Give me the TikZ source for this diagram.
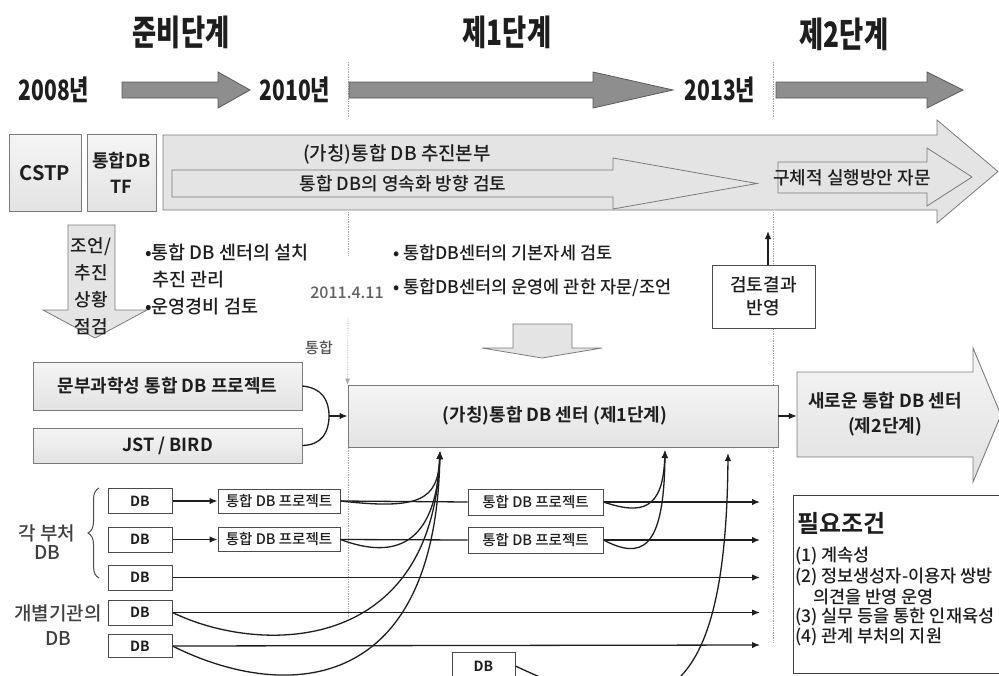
\documentclass[tikz,border=0pt]{standalone}
\usepackage{fontspec}
\setmainfont{Noto Sans CJK KR Medium}[BoldFont={Noto Sans CJK KR Bold}]
\newfontfamily\krc{Noto Sans CJK KR}[FakeStretch=0.75]
\usetikzlibrary{arrows.meta,decorations.pathreplacing,calc}
\definecolor{darkfill}{HTML}{8E8E8E}
\definecolor{darkline}{HTML}{5A5A5A}
\definecolor{lightfill}{HTML}{E4E4E4}
\definecolor{boxline}{HTML}{7A7A7A}
\definecolor{ink}{HTML}{1E1E1E}
\newcommand\fsz[2]{\fontsize{#1}{#2}\selectfont}
\begin{document}
\begin{tikzpicture}[x=1pt,y=-1pt,
  txt/.style={inner sep=0pt,text=ink},
  ttl/.style={txt,font=\krc\bfseries\fsz{35}{38}},
  yr/.style={txt,font=\krc\bfseries\fsz{28}{30}},
  bigarr/.style={fill=darkfill,draw=darkline,line width=0.8pt},
  lightarr/.style={fill=lightfill,draw=boxline,line width=0.8pt},
  graybox/.style={draw=boxline,line width=0.9pt,top color=gray!8,bottom color=gray!22,inner sep=0pt,text=ink},
  whitebox/.style={draw=ink!80,line width=1pt,fill=white,inner sep=0pt,text=ink},
  dbbox/.style={whitebox,minimum width=64pt,minimum height=25pt,font=\bfseries\fsz{14}{16}},
  projbox/.style={whitebox,minimum height=24pt,font=\fsz{14.5}{16}},
  vline/.style={draw=gray!70,densely dotted,line width=0.7pt},
  conn/.style={draw=ink,line width=1.3pt},
  tip/.style={-{Latex[length=8pt,width=6.5pt]}}
]
\useasboundingbox (0,0) rectangle (999,675);
\fill[white] (0,0) rectangle (999,675);

% ---------- dotted phase lines ----------
\draw[vline] (348,62) -- (348,118);
\draw[vline] (348,212) -- (348,256);
\draw[vline] (348,448) -- (348,618);
\draw[vline] (773,62) -- (773,118);
\draw[vline] (773,212) -- (773,385);
\draw[vline] (773,448) -- (773,642);

% ---------- titles ----------
\node[ttl] (t0) at (181,32) {준비단계};
\node[ttl] (t1) at (507,32) {제1단계};
\node[ttl] (t2) at (844,34) {제2단계};

\node[yr] (y08) at (54,90) {2008년};
\node[yr] (y10) at (295,90) {2010년};
\node[yr] (y13) at (720,90) {2013년};

\draw[bigarr] (122,82) -- (218,82) -- (218,72) -- (250,90) -- (218,108) -- (218,98) -- (122,98) -- cycle;
\draw[bigarr] (349,82) -- (593,82) -- (593,72) -- (673,90) -- (593,108) -- (593,98) -- (349,98) -- cycle;
\draw[bigarr] (776,82) -- (927,82) -- (927,72) -- (963,90) -- (927,108) -- (927,98) -- (776,98) -- cycle;

% ---------- second row ----------
\node[graybox,minimum width=72pt,minimum height=77pt,font=\bfseries\fsz{20}{22}] (cstp) at (45,173) {CSTP};
\node[graybox,minimum width=69pt,minimum height=77pt,align=center,font=\bfseries\fsz{18}{26}] (tf) at (121.5,173) {통합DB\\TF};

\draw[lightarr] (163,135) -- (937,135) -- (937,120) -- (998,171.5) -- (937,223) -- (937,210) -- (163,210) -- cycle;
\draw[lightarr] (172,170) -- (613,170) -- (613,158) -- (757,183.5) -- (613,209) -- (613,197) -- (172,197) -- cycle;
\draw[lightarr] (778,162) -- (927,162) -- (927,148) -- (972,177) -- (927,206) -- (927,193) -- (778,193) -- cycle;

\node[txt,font=\fsz{19}{22}] (hq) at (397,154) {(가칭)통합 DB 추진본부};
\node[txt,font=\fsz{18}{20}] (perm) at (403,184) {통합 DB의 영속화 방향 검토};
\node[txt,font=\fsz{18}{20}] (adv) at (852,177.5) {구체적 실행방안 자문};

% ---------- third row ----------
\draw[lightarr] (68,225) -- (115,225) -- (115,310) -- (147,310) -- (95,338) -- (43,310) -- (68,310) -- cycle;
\node[txt,align=center,font=\fsz{18}{27}] (chk) at (91,286) {조언/\\추진\\상황\\점검};

\node[txt,anchor=west,font=\fsz{18.5}{20}] (lb1) at (145,253) {•통합 DB 센터의 설치};
\node[txt,anchor=west,font=\fsz{18.5}{20}] (lb2) at (152,280) {추진 관리};
\node[txt,anchor=west,font=\fsz{18.5}{20}] (lb3) at (145,307) {•운영경비 검토};

\node[txt,anchor=west,font=\fsz{17.5}{20}] (mb1) at (393,253) {• 통합DB센터의 기본자세 검토};
\node[txt,anchor=west,font=\fsz{17.5}{20}] (mb2) at (393,288) {• 통합DB센터의 운영에 관한 자문/조언};
\node[txt,text=ink!70,font=\fsz{16}{18}] (date) at (347,293) {2011.4.11};

\draw[lightarr] (513,324) -- (572,324) -- (572,348) -- (602,348) -- (542,358) -- (482,348) -- (513,348) -- cycle;

\node[whitebox,minimum width=103pt,minimum height=63pt,align=center,font=\fsz{18}{23}] (kb) at (763.5,296.5) {검토결과\\반영};
\coordinate (kbt) at (768,231);
\draw[conn,tip] ([xshift=4.5pt]kb.north) -- (kbt);

% ---------- fourth row ----------
\node[graybox,minimum width=269pt,minimum height=48pt,font=\bfseries\fsz{18}{20}] (mext) at (167.5,386) {문부과학성 통합 DB 프로젝트};
\node[graybox,minimum width=269pt,minimum height=35pt,font=\bfseries\fsz{18}{20}] (jst) at (167.5,445.5) {JST / BIRD};

\node[graybox,minimum width=430pt,minimum height=62pt,font=\bfseries\fsz{18}{20}] (cb) at (563,416) {\hspace*{-16pt}(가칭)통합 DB 센터 (제1단계)};

\node[txt,text=ink!75,font=\fsz{15}{17}] (tonghap) at (319,348) {통합};
\draw[vline,-{Latex[length=6pt,width=5pt]}] (348,318) -- (cb.north west);

\coordinate (mj) at (329,416);
\draw[conn] (mext.east) .. controls (322,388) and (329,400) .. (mj);
\draw[conn] (jst.east) .. controls (322,445) and (329,432) .. (mj);
\draw[conn,tip] (mj) -- (cb.west);

\path[draw=boxline,line width=0.9pt,top color=gray!8,bottom color=gray!24]
  (797,372) -- (973,372) -- (973,348) -- (1001,415) -- (973,482) -- (973,457) -- (797,457) -- cycle;
\node[txt,minimum width=176pt,minimum height=85pt,align=center,font=\bfseries\fsz{18}{25}] (nb) at (885,414.5) {새로운 통합 DB 센터\\(제2단계)};
\draw[conn,tip] (cb.east) -- (nb.west |- cb.east);

% ---------- DB rows ----------
\node[dbbox] (db1) at (140,501) {DB};
\node[dbbox] (db2) at (140,539.5) {DB};
\node[dbbox] (db3) at (140,577.5) {DB};
\node[dbbox] (db4) at (140,612.5) {DB};
\node[dbbox,minimum height=23pt] (db5) at (140,646) {DB};
\node[dbbox,minimum width=63pt,minimum height=28pt] (db6) at (483.5,666) {DB};

\node[projbox,minimum width=122pt] (p1) at (279,501) {통합 DB 프로젝트};
\node[projbox,minimum width=122pt] (p2) at (279,539.5) {통합 DB 프로젝트};
\node[projbox,minimum width=135pt,minimum height=26pt] (q1) at (535.5,502) {통합 DB 프로젝트};
\node[projbox,minimum width=135pt,minimum height=26pt] (q2) at (535.5,540) {통합 DB 프로젝트};

\coordinate (e1) at (760,502);
\coordinate (e2) at (760,540);
\coordinate (e3) at (760,577.5);
\coordinate (e4) at (760,612.5);
\coordinate (e5) at (760,645);
\coordinate (ta) at (440,451);
\coordinate (tb) at (665,450);
\coordinate (tc) at (728,453);

\draw[conn,tip] (db1) -- (p1);
\draw[conn,tip] (db2) -- (p2);
\draw[conn] (p1.east) -- (q1.west);
\draw[conn] (p2.east) -- (q2.west);
\draw[conn,tip] (q1.east) -- (e1);
\draw[conn,tip] (q2.east) -- (e2);
\draw[conn,tip] (db3.east) -- (e3);
\draw[conn,tip] (db4.east) -- (e4);
\draw[conn,tip] (db5.east) -- (e5);

\draw[conn,tip] (p1.east) .. controls (420,510) and (438,500) .. (ta);
\draw[conn,tip] (p2.east) .. controls (395,560) and (436,545) .. (ta);
\draw[conn,tip] (db4.east) .. controls (260,655) and (432,655) .. (ta);
\draw[conn,tip] (db5.east) .. controls (280,700) and (435,700) .. (ta);
\draw[conn,tip] (q1.east) .. controls (642,515) and (663,510) .. (tb);
\draw[conn,tip] (q2.east) .. controls (642,560) and (664,550) .. (tb);
\draw[conn,tip] (db6.east) .. controls (650,730) and (726,720) .. (tc);

% ---------- left labels ----------
\draw[draw=ink!80,line width=1pt,decorate,decoration={brace,amplitude=11pt}] (99,578) -- (99,488);
\node[txt,align=center,text=ink!85,font=\fsz{19}{19}] (buch) at (47,542) {각 부처\\DB};
\node[txt,align=center,text=ink!85,font=\fsz{19}{25}] (gaebyeol) at (58,625) {개별기관의\\DB};

% ---------- requirements box ----------
\node[draw=ink!85,line width=1pt,anchor=north west,minimum width=212pt,minimum height=178pt,inner sep=0pt] (req) at (793,495) {};
\node[txt,anchor=west,font=\bfseries\fsz{24}{25}] (rq0) at (797,523) {필요조건};
\node[txt,anchor=west,font=\fsz{17.5}{20}] (rq1) at (795,556) {(1) 계속성};
\node[txt,anchor=west,font=\fsz{17.5}{20}] (rq2) at (795,577) {(2) 정보생성자-이용자 쌍방};
\node[txt,anchor=west,font=\fsz{17.5}{20}] (rq3) at (813,597) {의견을 반영 운영};
\node[txt,anchor=west,font=\fsz{17.5}{20}] (rq4) at (795,617) {(3) 실무 등을 통한 인재육성};
\node[txt,anchor=west,font=\fsz{17.5}{20}] (rq5) at (795,637) {(4) 관계 부처의 지원};
\end{tikzpicture}
\end{document}
